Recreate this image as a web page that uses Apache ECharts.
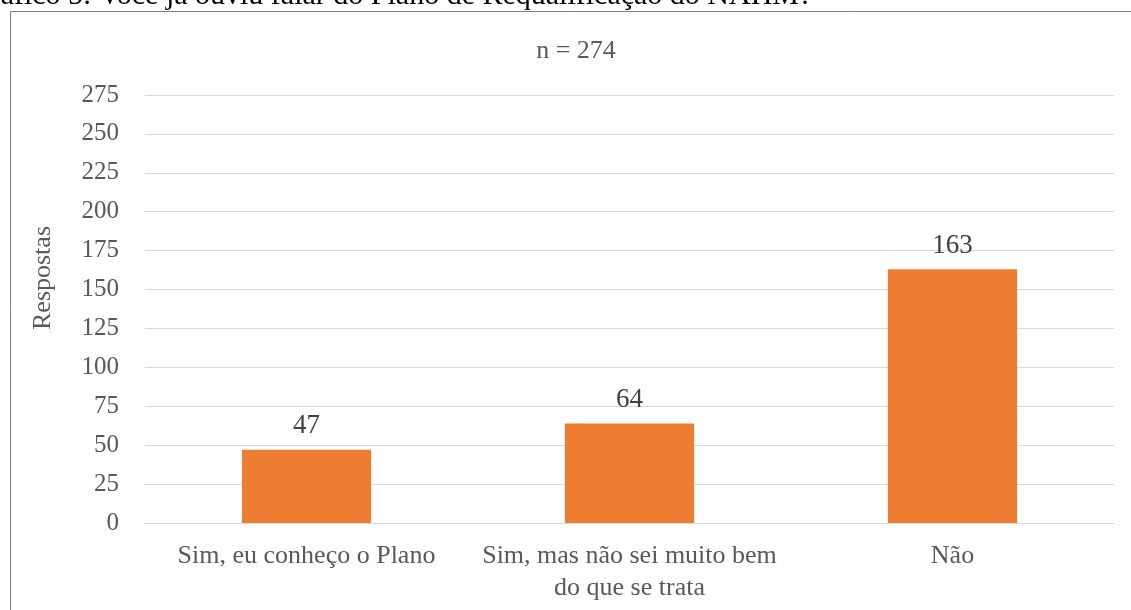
<!DOCTYPE html>
<html>
<head>
<meta charset="utf-8">
<script src="https://cdn.jsdelivr.net/npm/echarts@6/dist/echarts.min.js"></script>
<style>
  html, body { margin: 0; padding: 0; background: #ffffff; }
  #chart { width: 1131px; height: 610px; }
</style>
</head>
<body>
<div id="chart"></div>
<script>
// Survey answers: "Você já ouviu falar do Plano de Requalificação do NAHM?"
const categories = ['Sim, eu conheço o Plano', 'Sim, mas não sei muito bem\ndo que se trata', 'Não'];
const respostas = [47, 64, 163];
const sampleLabel = 'n = 274';
const axisTitle = 'Respostas';
const caption = 'Gráfico 5: Você já ouviu falar do Plano de Requalificação do NAHM?';

const serif = '"Liberation Serif", "Times New Roman", serif';
const textColor = '#595959';

const chart = echarts.init(document.getElementById('chart'), null, { renderer: 'canvas' });
chart.setOption({
  animation: false,
  backgroundColor: '#ffffff',
  title: {
    text: sampleLabel,
    left: 571,
    textAlign: 'center',
    top: 33,
    textStyle: { fontFamily: serif, fontSize: 26, fontWeight: 'normal', color: textColor }
  },
  graphic: [
    {
      // document caption sitting just above the chart frame
      type: 'text',
      left: -31,
      top: -19,
      style: { text: caption, font: '30px ' + serif, fill: '#000000' }
    },
    {
      // chart frame (only top and left edges fall inside the page)
      type: 'rect',
      shape: { x: 10.5, y: 11.5, width: 1200, height: 700 },
      style: { fill: 'none', stroke: '#7f7f7f', lineWidth: 1 },
      silent: true
    },
    {
      // vertical axis title
      type: 'text',
      x: 43,
      y: 278,
      rotation: Math.PI / 2,
      style: {
        text: axisTitle, font: '26px ' + serif, fill: textColor,
        align: 'center', verticalAlign: 'middle'
      }
    }
  ],
  grid: { left: 145, right: 17, top: 95, bottom: 87 },
  xAxis: {
    type: 'category',
    data: categories,
    axisTick: { show: false },
    axisLine: { lineStyle: { color: '#d9d9d9', width: 1 } },
    axisLabel: {
      fontFamily: serif, fontSize: 26, color: textColor,
      margin: 17, lineHeight: 32, interval: 0
    }
  },
  yAxis: {
    type: 'value',
    min: 0, max: 275, interval: 25,
    axisLine: { show: false },
    axisTick: { show: false },
    splitLine: { lineStyle: { color: '#d9d9d9', width: 1 } },
    axisLabel: { fontFamily: serif, fontSize: 25, color: textColor, margin: 26 }
  },
  series: [{
    type: 'bar',
    data: respostas,
    barWidth: '40%',
    itemStyle: { color: '#ed7d31' },
    label: {
      show: true, position: 'top', distance: 10,
      fontFamily: serif, fontSize: 27, color: '#404040'
    }
  }]
});
</script>
</body>
</html>
